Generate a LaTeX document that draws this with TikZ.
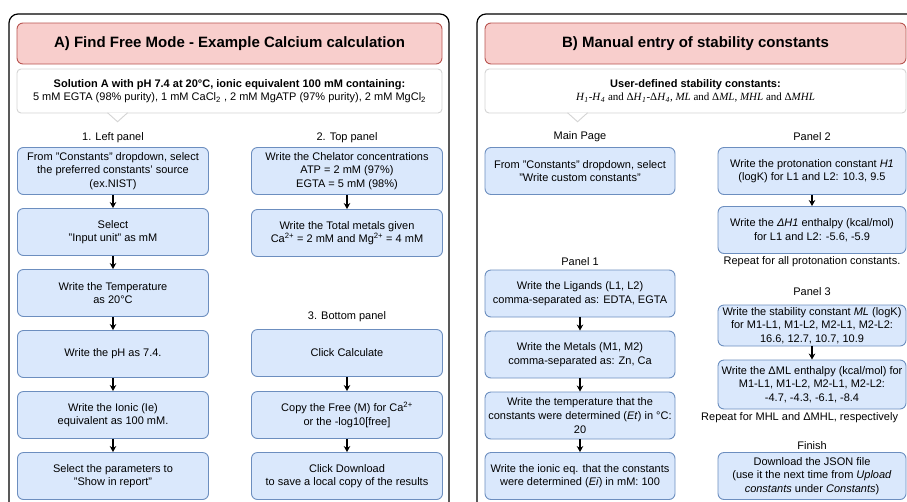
\documentclass[tikz,border=0pt]{standalone}
\usepackage{fontspec}
\setmainfont{Liberation Sans}
\newfontfamily\timesfont{Liberation Serif}
\usepackage{tikz}
\usetikzlibrary{positioning,calc,arrows.meta}
\definecolor{boxfill}{HTML}{DAE8FC}
\definecolor{boxline}{HTML}{6C8EBF}
\definecolor{headfill}{HTML}{F8CECC}
\definecolor{headline}{HTML}{B85450}
\definecolor{calloutline}{HTML}{D4D4D4}
\newcommand{\boxfont}{\fontsize{11}{13.6}\selectfont}
\newcommand{\headfont}{\bfseries\fontsize{15}{18}\selectfont}
\newcommand{\mi}[1]{\textit{#1}}

\begin{document}
\begin{tikzpicture}[x=1pt, y=-1pt,
  >={Stealth[length=6pt,width=6.5pt]},
  stepbox/.style={draw=boxline, fill=boxfill, rounded corners=6pt, line width=0.9pt,
    minimum width=191pt, minimum height=47pt, align=center, inner sep=1pt, font=\boxfont},
  headbox/.style={draw=headline, fill=headfill, rounded corners=6pt, line width=0.9pt,
    minimum width=425pt, minimum height=41pt, font=\headfont},
  infobox/.style={draw=calloutline, fill=white, rounded corners=4pt, line width=0.9pt,
    minimum width=425pt, minimum height=44pt, align=center, font=\boxfont},
  paneltitle/.style={font=\boxfont, inner sep=0pt},
  flow/.style={->, line width=1.3pt},
  frame/.style={line width=1.2pt, rounded corners=9pt}]
\def\xa{113}
\def\xb{347}
\def\xc{580}
\def\xd{812}

\useasboundingbox (0,0) rectangle (907,501);
\clip (0,0) rectangle (907,501);

% Rahmen
\draw[frame] (9,14) rectangle (449,540);
\draw[frame] (477,14) rectangle (950,540);

% A) Kopf
\node[headbox] (headA) at (229.5,43.5) {A) Find Free Mode - Example Calcium calculation};
\node[infobox] (infoA) at (229.5,91) {\textbf{Solution A with pH 7.4 at 20°C, ionic equivalent 100 mM containing:}\\
  5 mM EGTA (98\% purity), 1 mM CaCl\textsubscript{2} , 2 mM MgATP (97\% purity), 2 mM MgCl\textsubscript{2}};
\filldraw[draw=calloutline, fill=white, line width=0.9pt] ($(infoA.south west)+(91,-0.7)$) -- ++(10,9) -- ++(10,-9);

% A) linke Spalte
\node[paneltitle] (lblA1) at (\xa,138) {1. Left panel};
\node[stepbox] (a1) at (\xa,171) {From "Constants" dropdown, select\\the preferred constants' source\\(ex.NIST)};
\node[stepbox] (a2) at (\xa,232) {Select\\"Input unit" as mM};
\node[stepbox] (a3) at (\xa,293) {Write the Temperature\\as 20°C};
\node[stepbox] (a4) at (\xa,354) {Write the pH as 7.4.};
\node[stepbox] (a5) at (\xa,415) {Write the Ionic (Ie)\\equivalent as 100 mM.};
\node[stepbox] (a6) at (\xa,476) {Select the parameters to\\"Show in report"};
\foreach \i/\j in {a1/a2,a2/a3,a3/a4,a4/a5,a5/a6}
  \draw[flow] (\i) -- (\j);

% A) rechte Spalte
\node[paneltitle] (lblA2) at (\xb,138) {2. Top panel};
\node[stepbox] (b1) at (\xb,171) {Write the Chelator concentrations\\ATP = 2 mM (97\%)\\EGTA = 5 mM (98\%)};
\node[stepbox] (b2) at (\xb,233) {Write the Total metals given\\Ca\textsuperscript{2+} = 2 mM and Mg\textsuperscript{2+} = 4 mM};
\node[paneltitle] (lblA3) at (\xb,317) {3. Bottom panel};
\node[stepbox] (b3) at (\xb,353) {Click Calculate};
\node[stepbox] (b4) at (\xb,415) {Copy the Free (M) for Ca\textsuperscript{2+}\\or the -log10[free]};
\node[stepbox] (b5) at (\xb,476) {Click Download\\to save a local copy of the results};
\foreach \i/\j in {b1/b2,b3/b4,b4/b5}
  \draw[flow] (\i) -- (\j);

% B) Kopf
\node[headbox, minimum width=421pt] (headB) at (695.5,43.5) {B) Manual entry of stability constants};
\node[infobox, minimum width=421pt] (infoB) at (695.5,91) {\textbf{User-defined stability constants:}\\
  {\timesfont \mi{H}\textsubscript{\mi{1}}-\mi{H}\textsubscript{\mi{4}} and Δ\mi{H}\textsubscript{\mi{1}}-Δ\mi{H}\textsubscript{\mi{4}}, \mi{ML} and Δ\mi{ML}, \mi{MHL} and Δ\mi{MHL}}};
\filldraw[draw=calloutline, fill=white, line width=0.9pt] ($(infoB.south west)+(83,-0.7)$) -- ++(10,9) -- ++(10,-9);

% B) linke Spalte
\node[paneltitle] (lblB1) at (\xc,137) {Main Page};
\node[stepbox, minimum width=190pt] (c1) at (\xc,171) {From "Constants" dropdown, select\\"Write custom constants"};
\node[paneltitle] (lblB2) at (\xc,262) {Panel 1};
\node[stepbox, minimum width=190pt] (c2) at (\xc,293.5) {Write the Ligands (L1, L2)\\comma-separated as: EDTA, EGTA};
\node[stepbox, minimum width=190pt] (c3) at (\xc,354.5) {Write the Metals (M1, M2)\\comma-separated as: Zn, Ca};
\node[stepbox, minimum width=190pt] (c4) at (\xc,415.5) {Write the temperature that the\\constants were determined (\textit{Et}) in °C:\\20};
\node[stepbox, minimum width=190pt] (c5) at (\xc,476) {Write the ionic eq. that the constants\\were determined (\textit{Ei}) in mM: 100};
\foreach \i/\j in {c2/c3,c3/c4,c4/c5}
  \draw[flow] (\i) -- (\j);

% B) rechte Spalte
\node[paneltitle] (lblB3) at (\xd,137) {Panel 2};
\node[stepbox, minimum width=188pt] (d1) at (\xd,171) {Write the protonation constant \textit{H1}\\(logK) for L1 and L2: 10.3, 9.5};
\node[stepbox, minimum width=188pt] (d2) at (\xd,230) {Write the \textit{ΔH1} enthalpy (kcal/mol)\\for L1 and L2: -5.6, -5.9};
\node[paneltitle] (rep1) at (\xd,262) {Repeat for all protonation constants.};
\node[paneltitle] (lblB4) at (\xd,292) {Panel 3};
\node[stepbox, minimum width=188pt, minimum height=41pt] (d3) at (\xd,325.5) {Write the stability constant \textit{ML} (logK)\\for M1-L1, M1-L2, M2-L1, M2-L2:\\16.6, 12.7, 10.7, 10.9};
\node[stepbox, minimum width=188pt, minimum height=49pt] (d4) at (\xd,384.5) {Write the ΔML enthalpy (kcal/mol) for\\M1-L1, M1-L2, M2-L1, M2-L2:\\-4.7, -4.3, -6.1, -8.4};
\node[paneltitle, anchor=west] (rep2) at (701,418) {Repeat for MHL and ΔMHL, respectively};
\node[paneltitle] (lblB5) at (\xd,446) {Finish};
\node[stepbox, minimum width=188pt] (d5) at (\xd,476) {Download the JSON file\\(use it the next time from \textit{Upload}\\\textit{constants} under \textit{Constants})};
\foreach \i/\j in {d1/d2,d3/d4}
  \draw[flow] (\i) -- (\j);
\end{tikzpicture}
\end{document}
